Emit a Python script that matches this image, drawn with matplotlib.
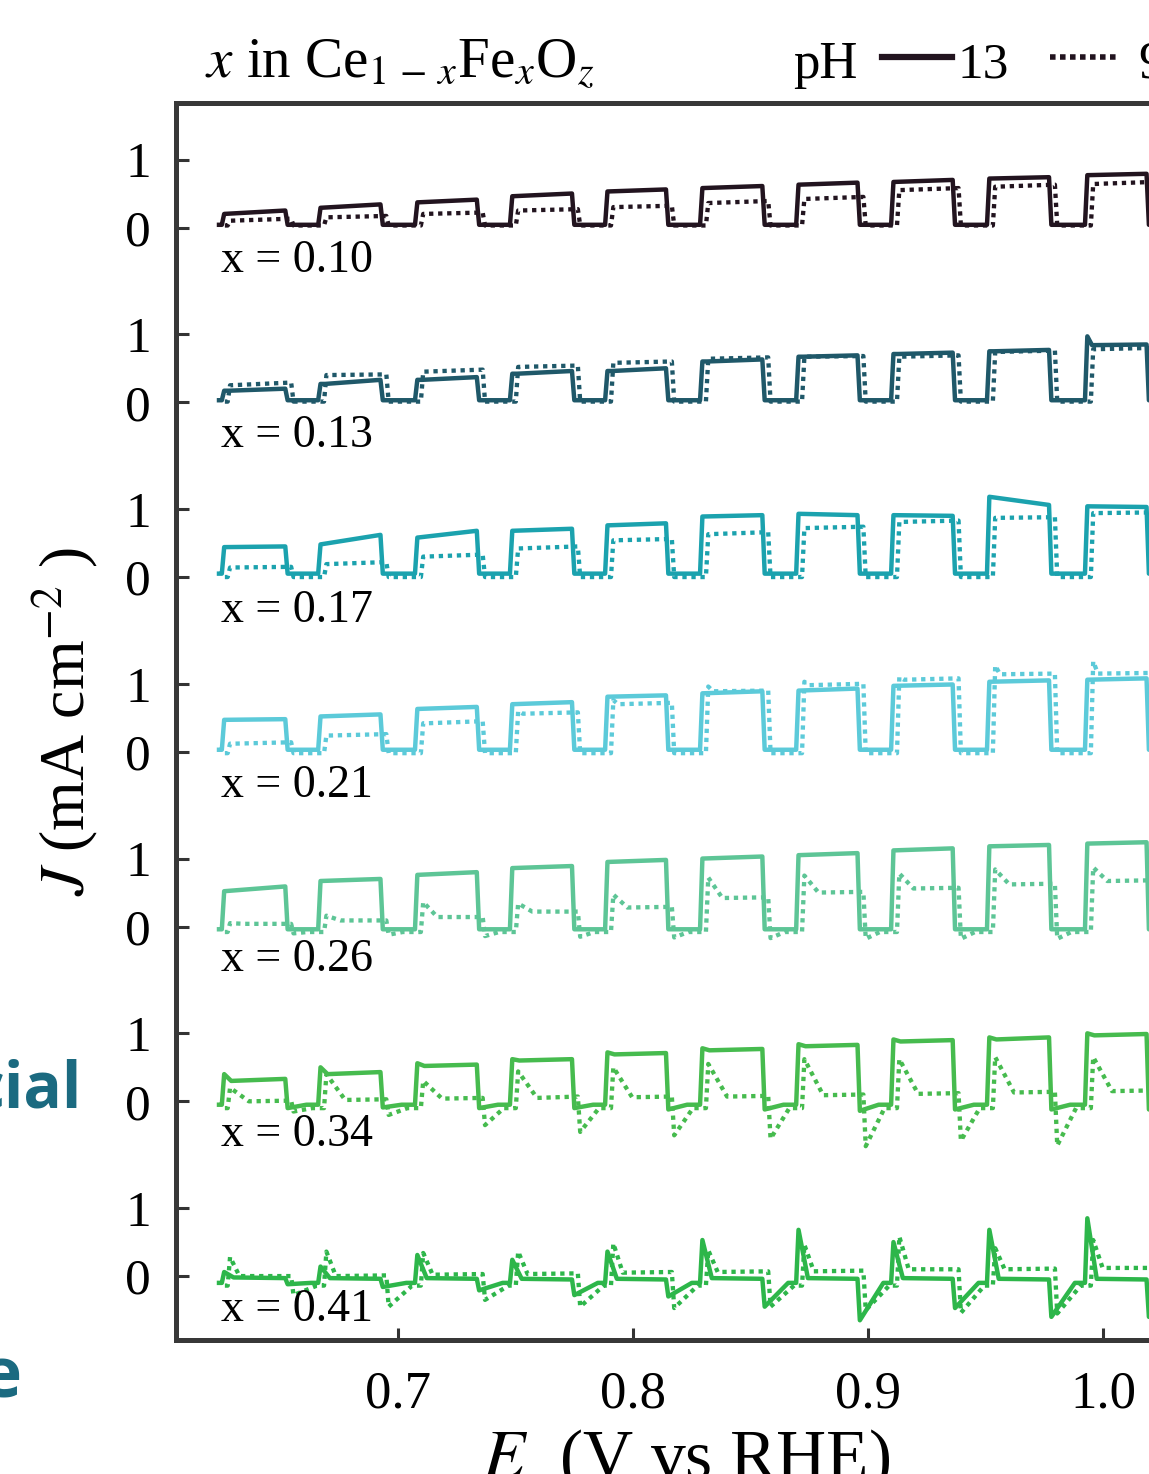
import matplotlib
matplotlib.use("Agg")
import matplotlib.pyplot as plt
from matplotlib.lines import Line2D

plt.rcParams['font.family'] = ['Liberation Serif', 'DejaVu Serif']
plt.rcParams['mathtext.fontset'] = 'stix'

# light on / light off potentials (V vs RHE), pH 13 trace
e_on = [0.6250, 0.6660, 0.7072, 0.7476, 0.7881, 0.8285, 0.8694, 0.9098, 0.9506, 0.9923]
e_off = [0.6520, 0.6925, 0.7335, 0.7740, 0.8140, 0.8550, 0.8955, 0.9360, 0.9770, 1.0185]
e_end = 1.035
ph9_lag = 0.0025

samples = ["x = 0.10", "x = 0.13", "x = 0.17", "x = 0.21", "x = 0.26", "x = 0.34", "x = 0.41"]

# photocurrent (mA cm-2) at start / end of each light pulse
j13_start = [
    [0.20, 0.29, 0.37, 0.46, 0.53, 0.58, 0.63, 0.67, 0.72, 0.77],
    [0.17, 0.27, 0.33, 0.42, 0.46, 0.60, 0.67, 0.71, 0.75, 0.84],
    [0.44, 0.48, 0.58, 0.68, 0.76, 0.89, 0.93, 0.91, 1.18, 1.04],
    [0.47, 0.52, 0.63, 0.70, 0.81, 0.86, 0.90, 0.97, 1.03, 1.06],
    [0.52, 0.67, 0.76, 0.86, 0.95, 1.00, 1.05, 1.12, 1.18, 1.22],
    [0.30, 0.40, 0.52, 0.60, 0.69, 0.75, 0.81, 0.88, 0.91, 0.97],
    [-0.02, -0.03, -0.03, -0.04, -0.04, -0.03, -0.03, -0.03, -0.04, -0.04],
]
j13_end = [
    [0.25, 0.34, 0.41, 0.50, 0.56, 0.61, 0.66, 0.70, 0.74, 0.79],
    [0.20, 0.33, 0.37, 0.46, 0.50, 0.63, 0.69, 0.73, 0.77, 0.85],
    [0.45, 0.62, 0.68, 0.71, 0.79, 0.91, 0.91, 0.90, 1.06, 1.03],
    [0.48, 0.55, 0.66, 0.73, 0.83, 0.89, 0.93, 0.99, 1.05, 1.08],
    [0.59, 0.70, 0.80, 0.89, 0.98, 1.03, 1.08, 1.15, 1.20, 1.24],
    [0.33, 0.43, 0.54, 0.62, 0.71, 0.77, 0.83, 0.90, 0.94, 0.99],
    [-0.03, -0.04, -0.04, -0.05, -0.05, -0.04, -0.04, -0.04, -0.05, -0.05],
]
j9_start = [
    [0.10, 0.15, 0.20, 0.25, 0.30, 0.36, 0.42, 0.55, 0.60, 0.64],
    [0.25, 0.40, 0.45, 0.52, 0.58, 0.64, 0.67, 0.67, 0.74, 0.78],
    [0.14, 0.19, 0.30, 0.42, 0.54, 0.63, 0.72, 0.81, 0.87, 0.94],
    [0.12, 0.24, 0.42, 0.56, 0.70, 0.89, 0.98, 1.06, 1.14, 1.15],
    [0.04, 0.09, 0.14, 0.22, 0.28, 0.42, 0.50, 0.56, 0.62, 0.67],
    [0.00, 0.02, 0.04, 0.05, 0.06, 0.07, 0.09, 0.11, 0.13, 0.15],
    [0.00, 0.00, 0.02, 0.03, 0.05, 0.06, 0.07, 0.10, 0.10, 0.12],
]
j9_end = [
    [0.13, 0.17, 0.22, 0.27, 0.32, 0.39, 0.45, 0.58, 0.63, 0.67],
    [0.29, 0.41, 0.48, 0.54, 0.60, 0.66, 0.68, 0.69, 0.76, 0.80],
    [0.15, 0.22, 0.33, 0.45, 0.56, 0.66, 0.74, 0.83, 0.88, 0.95],
    [0.14, 0.26, 0.45, 0.58, 0.72, 0.90, 1.00, 1.08, 1.15, 1.16],
    [0.04, 0.09, 0.14, 0.22, 0.29, 0.43, 0.51, 0.57, 0.63, 0.68],
    [0.01, 0.03, 0.05, 0.07, 0.07, 0.08, 0.10, 0.12, 0.14, 0.16],
    [0.00, 0.01, 0.03, 0.04, 0.06, 0.07, 0.08, 0.10, 0.11, 0.12],
]
# transient peaks when the light is switched on
spike13 = [
    None,
    [0.17, 0.27, 0.33, 0.42, 0.46, 0.60, 0.67, 0.71, 0.75, 0.97],
    None, None, None,
    [0.40, 0.50, 0.56, 0.62, 0.72, 0.78, 0.84, 0.91, 0.94, 1.00],
    [0.06, 0.14, 0.31, 0.24, 0.36, 0.53, 0.68, 0.50, 0.68, 0.85],
]
spike9 = [
    None, None, None,
    [0.12, 0.24, 0.42, 0.60, 0.76, 0.96, 1.03, 1.10, 1.27, 1.33],
    [0.05, 0.16, 0.36, 0.34, 0.47, 0.72, 0.75, 0.78, 0.84, 0.87],
    [0.20, 0.40, 0.30, 0.44, 0.50, 0.55, 0.62, 0.62, 0.65, 0.65],
    [0.28, 0.36, 0.34, 0.36, 0.48, 0.38, 0.46, 0.58, 0.41, 0.53],
]
# cathodic dips when the light is switched off
dip13 = [
    None, None, None, None, None,
    [-0.10, -0.09, -0.10, -0.10, -0.12, -0.12, -0.14, -0.12, -0.12, -0.12],
    [-0.12, -0.16, -0.21, -0.28, -0.30, -0.45, -0.65, -0.47, -0.60, -0.60],
]
dip9 = [
    None, None, None, None,
    [-0.10, -0.12, -0.14, -0.15, -0.16, -0.17, -0.18, -0.18, -0.18, -0.18],
    [-0.15, -0.20, -0.35, -0.45, -0.50, -0.55, -0.66, -0.58, -0.65, -0.55],
    [-0.28, -0.45, -0.35, -0.45, -0.47, -0.45, -0.50, -0.54, -0.55, -0.55],
]
dark13 = [0.04, 0.03, 0.05, 0.03, -0.04, -0.05, -0.10]
dark9 = [0.03, 0.01, 0.00, -0.02, -0.08, -0.10, -0.14]

# styling
colors = ['#22141f', '#1f5869', '#1ba2ae', '#5ccad9', '#5dc596', '#46bb4e', '#2db64a']
decay13 = [0.002, 0.002, 0.002, 0.002, 0.002, 0.003, 0.004]
decay9 = [0.002, 0.002, 0.002, 0.002, 0.006, 0.008, 0.004]
recover = [0.002, 0.002, 0.002, 0.002, 0.006, 0.008, 0.010]
spacing = 2.57


def trace(ps, pe, dark, spike, dip, lag, decay, rec):
    E, J = [e_on[0] + lag - 0.0012], [dark]
    for k in range(len(e_on)):
        on = e_on[k] + lag
        off = e_off[k] + lag
        E.append(on)
        J.append(dark)
        if spike is not None:
            E += [on + 0.001, on + 0.001 + decay]
            J += [spike[k], ps[k]]
        else:
            E.append(on + 0.001)
            J.append(ps[k])
        E.append(off)
        J.append(pe[k])
        if dip is not None:
            E += [off + 0.001, off + 0.001 + rec]
            J += [dip[k], dark]
        else:
            E.append(off + 0.001)
            J.append(dark)
    E.append(e_end)
    J.append(dark)
    return E, J


W, H = 1149, 1474
fig = plt.figure(figsize=(W / 100, H / 100), dpi=100)


def fx(p):
    return p / W


def fy(p):
    return 1 - p / H


x0, x1 = 0.6055, 1.06
ax_left = 176
ax_right = ax_left + (x1 - x0) * 2350
ax = fig.add_axes([fx(ax_left), fy(1340), fx(ax_right - ax_left), (1340 - 103) / H])

n = len(samples)
yticks, ylabels = [], []
for i in range(n):
    off = spacing * (n - 1 - i)
    E13, J13 = trace(j13_start[i], j13_end[i], dark13[i], spike13[i], dip13[i],
                     0.0, decay13[i], recover[i])
    E9, J9 = trace(j9_start[i], j9_end[i], dark9[i], spike9[i], dip9[i],
                   ph9_lag, decay9[i], recover[i])
    ax.plot(E9, [j + off for j in J9], color=colors[i], lw=3.1,
            ls=(0, (1, 1.1)), dash_capstyle='butt', solid_joinstyle='miter')
    ax.plot(E13, [j + off for j in J13], color=colors[i], lw=3.2,
            solid_joinstyle='round')
    ax.text(0.6245, off - 0.66, samples[i], fontsize=33, va='baseline', ha='left')
    yticks += [off, off + 1]
    ylabels += ['0', '1']

ax.set_xlim(x0, x1)
ax.set_ylim(-0.94, -0.94 + 1237 / 68)
ax.set_xticks([0.7, 0.8, 0.9, 1.0])
ax.set_xticklabels(['0.7', '0.8', '0.9', '1.0'])
ax.set_yticks(yticks)
ax.set_yticklabels(ylabels)
ax.tick_params(axis='x', direction='in', length=9, width=2.2, color='#333333',
               labelsize=38, pad=22)
ax.tick_params(axis='y', direction='in', length=9, width=2.2, color='#333333',
               labelsize=37, pad=18)
for s in ax.spines.values():
    s.set_linewidth(3.6)
    s.set_color('#383838')

fig.text(fx(65), fy(722), r'$J$ (mA cm$^{-2}$ )', rotation=90, ha='center',
         va='center', fontsize=46)
fig.text(fx(686), fy(1478), r'$E$  (V vs RHE)', ha='center', va='baseline',
         fontsize=50)

# header: composition and pH key
fig.text(fx(205), fy(78), r'$x$ in Ce$_{1\,-\,x}$Fe$_x$O$_z$', ha='left',
         va='baseline', fontsize=41)
fig.text(fx(793), fy(78), 'pH', ha='left', va='baseline', fontsize=38)
fig.add_artist(Line2D([fx(882), fx(952)], [fy(57), fy(57)], transform=fig.transFigure,
                      color='#22141f', lw=4.5))
fig.text(fx(958), fy(78), '13', ha='left', va='baseline', fontsize=37)
fig.add_artist(Line2D([fx(1050), fx(1120)], [fy(57), fy(57)], transform=fig.transFigure,
                      color='#22141f', lw=4, ls=(0, (1, 0.8)), dash_capstyle='butt'))
fig.text(fx(1138), fy(78), '9', ha='left', va='baseline', fontsize=38)

# fragments of neighbouring slide text
fig.text(fx(82), fy(1108), 'cial', ha='right', va='baseline', fontsize=46,
         fontweight='bold', family='Open Sans', color='#1b6a80')
fig.text(fx(22), fy(1398), 'e', ha='right', va='baseline', fontsize=50,
         fontweight='bold', family='Open Sans', color='#1b6a80')

fig.savefig('out.png', dpi=100)
